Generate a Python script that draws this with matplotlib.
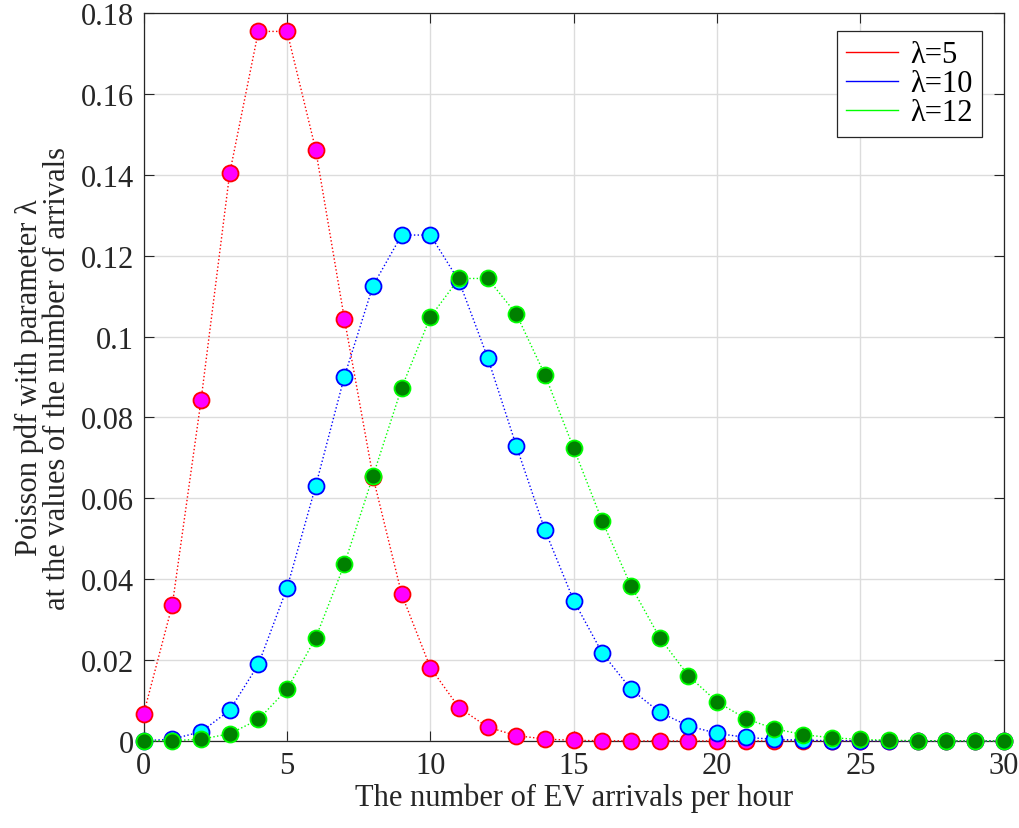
import matplotlib.pyplot as plt
from matplotlib.lines import Line2D

plt.rcParams['font.family'] = ['Liberation Serif', 'DejaVu Serif']

# arrivals per hour
k = list(range(31))

# Poisson pdf values for each rate
pdf_5 = [0.00674, 0.03369, 0.08422, 0.14037, 0.17547, 0.17547, 0.14622, 0.10444,
         0.06528, 0.03627, 0.01813, 0.00824, 0.00343, 0.00132, 0.00047, 0.00016,
         0.00005, 0.00001, 0.0, 0.0, 0.0, 0.0, 0.0, 0.0, 0.0, 0.0, 0.0, 0.0, 0.0, 0.0, 0.0]
pdf_10 = [0.00005, 0.00045, 0.00227, 0.00757, 0.01892, 0.03783, 0.06306, 0.09008,
          0.11260, 0.12511, 0.12511, 0.11374, 0.09478, 0.07291, 0.05208, 0.03472,
          0.02170, 0.01276, 0.00709, 0.00373, 0.00187, 0.00089, 0.00040, 0.00018,
          0.00007, 0.00003, 0.00001, 0.0, 0.0, 0.0, 0.0]
pdf_12 = [0.00001, 0.00007, 0.00044, 0.00177, 0.00531, 0.01274, 0.02548, 0.04368,
          0.06552, 0.08736, 0.10484, 0.11437, 0.11437, 0.10557, 0.09049, 0.07239,
          0.05429, 0.03832, 0.02555, 0.01614, 0.00968, 0.00553, 0.00302, 0.00157,
          0.00079, 0.00038, 0.00017, 0.00008, 0.00003, 0.00001, 0.00001]

labels = ['λ=5', 'λ=10', 'λ=12']
yticks = [0, 0.02, 0.04, 0.06, 0.08, 0.1, 0.12, 0.14, 0.16, 0.18]
ytick_labels = ['0', '0.02', '0.04', '0.06', '0.08', '0.1', '0.12', '0.14', '0.16', '0.18']
xticks = [0, 5, 10, 15, 20, 25, 30]

fig = plt.figure(figsize=(10.19, 8.29), dpi=100)
ax = fig.add_axes([0.141, 0.105, 0.844, 0.878])

styles = [
    (pdf_5, 'red', 'magenta'),
    (pdf_10, 'blue', 'cyan'),
    (pdf_12, (0, 1, 0), (0, 0.5, 0)),
]
for y, edge, face in styles:
    ax.plot(k, y, linestyle=':', color=edge, linewidth=1.0, marker='o',
            markersize=11.5, markerfacecolor=face, markeredgecolor=edge,
            markeredgewidth=1.3, clip_on=False, zorder=3)

ax.set_xlim(0, 30)
ax.set_ylim(0, 0.18)
ax.set_xticks(xticks)
ax.set_yticks(yticks)
ax.set_yticklabels(ytick_labels)
ax.grid(True, color='#dcdcdc', linewidth=1.0)
ax.set_axisbelow(True)
ax.tick_params(direction='in', top=True, right=True, labelsize=22,
               length=7, width=0.8, colors='#262626', pad=7)
for s in ax.spines.values():
    s.set_color('#262626')
    s.set_linewidth(0.9)

ax.set_xlabel('The number of EV arrivals per hour', fontsize=22, color='#262626',
              labelpad=2)
ax.set_ylabel('Poisson pdf with parameter λ\nat the values of the number of arrivals',
              fontsize=22, color='#262626', linespacing=0.95, labelpad=6)

handles = [Line2D([], [], color=c, linewidth=1.0) for c in ['red', 'blue', (0, 1, 0)]]
leg = ax.legend(handles, labels, loc='upper right', bbox_to_anchor=(0.975, 0.975),
                fontsize=22, fancybox=False, edgecolor='#262626', framealpha=1,
                handlelength=1.7, borderaxespad=0.0, labelspacing=0.0,
                handletextpad=0.4, borderpad=0.3)
leg.get_frame().set_linewidth(0.9)

fig.savefig('out.png', dpi=100)
